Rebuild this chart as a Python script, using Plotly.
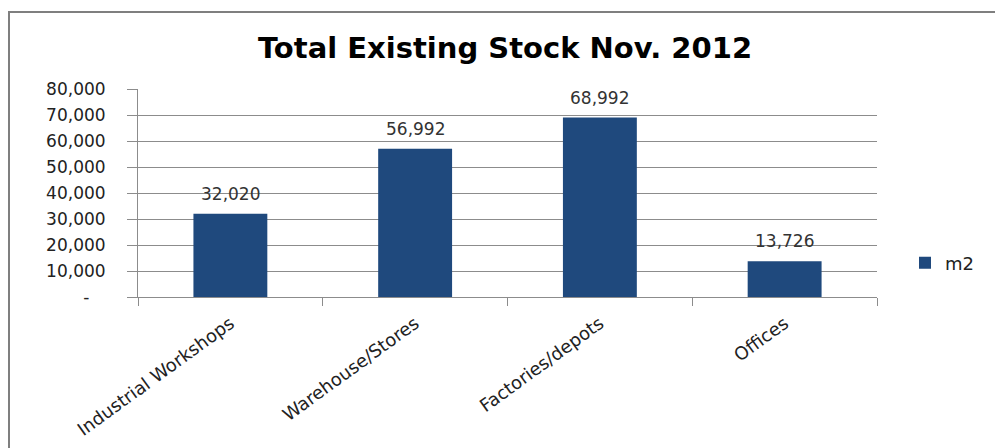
import plotly.graph_objects as go

# Stock figures (m2) by property category
categories = ["Industrial Workshops", "Warehouse/Stores", "Factories/depots", "Offices"]
m2_values = [32020, 56992, 68992, 13726]
y_tick_values = [0, 10000, 20000, 30000, 40000, 50000, 60000, 70000, 80000]
y_tick_labels = ["-&nbsp;&nbsp;&nbsp;", "10,000", "20,000", "30,000", "40,000",
                 "50,000", "60,000", "70,000", "80,000"]

W, H = 995, 448
L, R, T, B = 138, 118, 89, 151
plot_w = W - L - R
plot_h = H - T - B

BAR = "#1F497D"
GRID = "#8C8C8C"
FONT = "DejaVu Sans"

fig = go.Figure()
fig.add_trace(go.Bar(
    x=categories,
    y=m2_values,
    name="m2",
    marker=dict(color=BAR, line=dict(width=0)),
    width=0.4,
    cliponaxis=False,
))

# value labels above each bar
for cat, val in zip(categories, m2_values):
    fig.add_annotation(
        x=cat, y=val, xref="x", yref="y",
        text=f"{val:,}", showarrow=False,
        yanchor="middle", yshift=20,
        font=dict(family=FONT, size=17, color="#333333"),
    )

# outer frame (top and left edges of the chart area)
fx = (9 - L) / plot_w
fy_top = 1 + (T - 12) / plot_h
fy_bot = -(B + 5) / plot_h
fx_right = 1 + (R + 5) / plot_w

fig.update_layout(
    width=W, height=H,
    margin=dict(l=L, r=R, t=T, b=B, autoexpand=False),
    paper_bgcolor="white",
    plot_bgcolor="white",
    title=dict(
        text="<b>Total Existing Stock Nov. 2012</b>",
        font=dict(family=FONT, size=29, color="#000000"),
        x=505 / W, xanchor="center",
        y=1 - 48 / H, yanchor="middle",
    ),
    showlegend=True,
    legend=dict(
        x=(905 - L) / plot_w, xanchor="left",
        y=(H - B - 263) / plot_h, yanchor="middle",
        font=dict(family=FONT, size=18, color="#222222"),
        bgcolor="rgba(0,0,0,0)",
        itemwidth=30,
    ),
    shapes=[dict(
        type="path",
        xref="paper", yref="paper",
        path=f"M {fx} {fy_bot} L {fx} {fy_top} L {fx_right} {fy_top}",
        line=dict(color="#7F7F7F", width=2),
        layer="below",
    )],
)

fig.update_xaxes(
    type="category",
    showline=True, linecolor=GRID, linewidth=1,
    ticks="outside", tickson="boundaries", ticklen=8, tickcolor=GRID,
    tickangle=-36,
    ticklabelstandoff=8,
    tickfont=dict(family=FONT, size=18, color="#222222"),
    showgrid=False,
)
fig.update_yaxes(
    range=[0, 80000],
    tickvals=y_tick_values,
    ticktext=y_tick_labels,
    showline=True, linecolor=GRID, linewidth=1,
    ticks="outside", ticklen=10, tickcolor=GRID,
    ticklabelstandoff=18,
    tickfont=dict(family=FONT, size=17, color="#222222"),
    showgrid=True, gridcolor=GRID, gridwidth=1,
    zeroline=False,
)

fig.write_html("out.html")
